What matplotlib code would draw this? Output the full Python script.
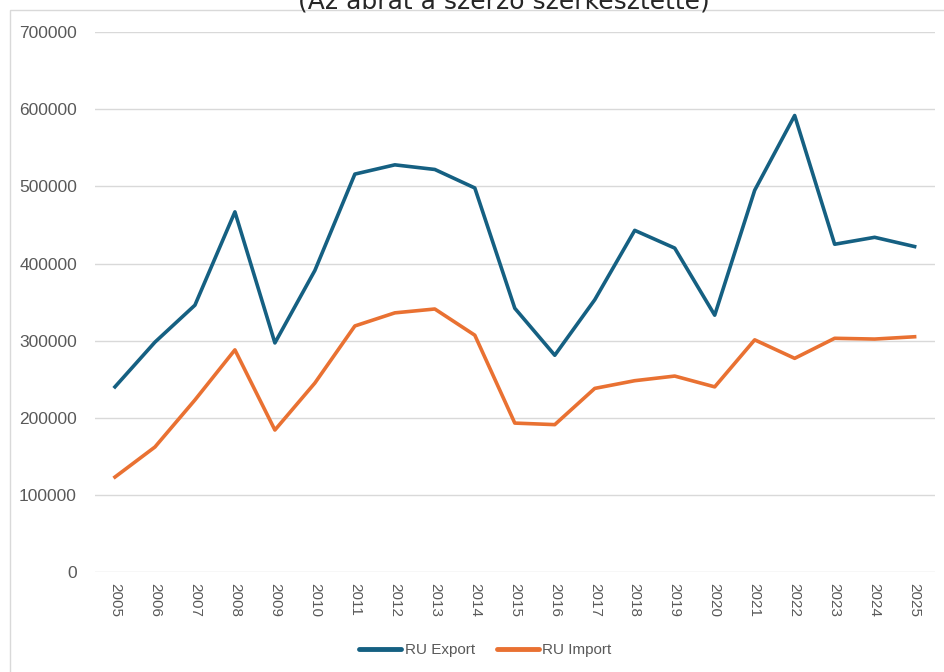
"""RU export / import, 2005-2025 — line chart."""
import matplotlib
matplotlib.use("Agg")
import matplotlib.pyplot as plt
from matplotlib.patches import Rectangle

years = [str(y) for y in range(2005, 2026)]
ru_export = [240000, 298000, 346000, 467000, 297000, 391000, 516000, 528000, 522000, 498000,
             342000, 281000, 353000, 443000, 420000, 333000, 495000, 592000, 425000, 434000, 422000]
ru_import = [123000, 162000, 223000, 288000, 184000, 245000, 319000, 336000, 341000, 307000,
             193000, 191000, 238000, 248000, 254000, 240000, 301000, 277000, 303000, 302000, 305000]
yticks = [0, 100000, 200000, 300000, 400000, 500000, 600000, 700000]

GREY = "#595959"
plt.rcParams["font.family"] = ["Liberation Sans", "DejaVu Sans"]

fig = plt.figure(figsize=(9.45, 6.72), dpi=100)
ax = fig.add_axes([0.1005, 0.149, 0.8885, 0.803])

x = range(len(years))
ax.plot(x, ru_export, color="#156082", lw=2.6, label="RU Export", solid_joinstyle="round")
ax.plot(x, ru_import, color="#E97132", lw=2.6, label="RU Import", solid_joinstyle="round")

ax.set_xlim(-0.5, len(years) - 0.5)
ax.set_ylim(0, 700000)
ax.set_yticks(yticks)
ax.set_yticklabels([str(v) for v in yticks], fontsize=12.5, color=GREY)
ax.set_xticks(list(x))
ax.set_xticklabels(years, rotation=-90, fontsize=11, color=GREY)
ax.tick_params(axis="both", length=0)
ax.tick_params(axis="y", pad=13)
ax.tick_params(axis="x", pad=8)
ax.grid(axis="y", color="#d9d9d9", lw=1)
ax.set_axisbelow(True)
for s in ax.spines.values():
    s.set_visible(False)

leg = ax.legend(loc="center", bbox_to_anchor=(0.465, -0.145), ncol=2, frameon=False,
                fontsize=11, handlelength=2.75, columnspacing=1.4, handletextpad=0.25)
for t in leg.get_texts():
    t.set_color(GREY)
for h in leg.get_lines():
    h.set_linewidth(3.5)
    h.set_solid_capstyle("round")

fig.patches.append(Rectangle((10 / 945, -0.1), 1.2, 1 - 10 / 672 + 0.1, transform=fig.transFigure,
                             fill=False, edgecolor="#d9d9d9", lw=1))
fig.text(0.533, 1 - 8 / 672, "(Az ábrát a szerző szerkesztette)", ha="center", va="baseline",
         fontsize=18, family="DejaVu Sans", color="#262626")

fig.savefig("out.png", dpi=100)
